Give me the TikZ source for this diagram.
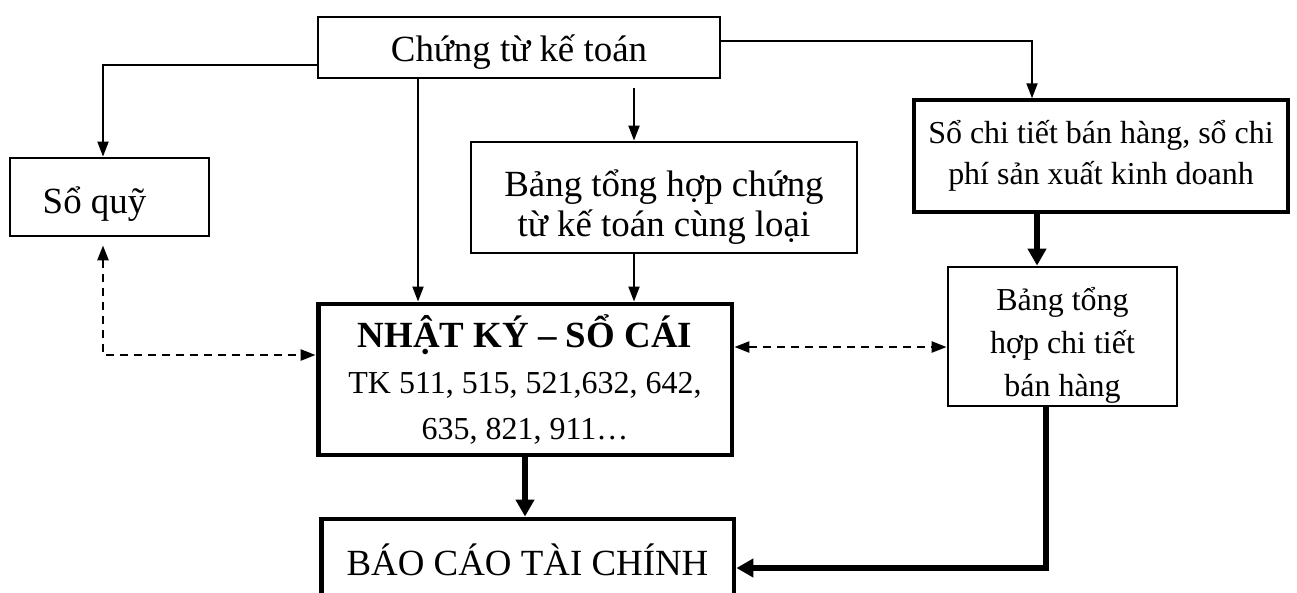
\documentclass[tikz,border=0pt]{standalone}
\usepackage{fontspec}
\setmainfont{Liberation Serif}
\usetikzlibrary{arrows.meta}

\begin{document}
\begin{tikzpicture}[x=0.02cm, y=-0.02cm,
	hop/.style={draw, line width=1.6pt, inner sep=0pt, align=center, font=\fontsize{21}{25.5}\selectfont},
	hopnho/.style={hop, font=\fontsize{18.2}{24.4}\selectfont},
	muiten/.style={-{Triangle[length=0.3cm,width=0.22cm]}, line width=1.1pt},
	muitendam/.style={-{Triangle[length=0.34cm,width=0.36cm]}, line width=3pt},
	netdut/.style={{Triangle[length=0.3cm,width=0.22cm]}-{Triangle[length=0.3cm,width=0.22cm]}, line width=1.4pt, dash pattern=on 0.16cm off 0.12cm}]
	\useasboundingbox (0,0) rectangle (1297,592);
	
	% Các ô của sơ đồ
	\node[hop, minimum width=8.04cm, minimum height=1.22cm, text height=0.56cm, text depth=0pt] (ct) at (519,47.5) {Chứng từ kế toán};
	\node[hop, minimum width=3.98cm, minimum height=1.56cm, text height=0.64cm, text depth=0pt] (sq) at (109.5,197) {Sổ quỹ\hspace*{0.6cm}};
	\node[hop, minimum width=7.72cm, minimum height=2.22cm, font=\fontsize{21}{23}\selectfont] (bth) at (664,197.5) {\rule{0pt}{26pt}Bảng tổng hợp chứng\\từ kế toán cùng loại};
	\node[hopnho, line width=2pt, minimum width=7.48cm, minimum height=2.24cm, font=\fontsize{18.2}{23.3}\selectfont] (sct) at (1101,156) {Sổ chi tiết bán hàng, sổ chi\\phí sản xuất kinh doanh};
	\node[hopnho, minimum width=4.58cm, minimum height=2.78cm] (bct) at (1062.5,336.5) {\rule{0pt}{23pt}Bảng tổng\\hợp chi tiết\\bán hàng};
	\node[hopnho, line width=2.8pt, minimum width=8.28cm, minimum height=3.02cm, font=\fontsize{18.2}{26}\selectfont] (nk) at (525,379.5) {{\fontsize{21}{25}\selectfont\bfseries NHẬT KÝ – SỔ CÁI}\\TK 511, 515, 521,632, 642,\\635, 821, 911…};
	\node[hop, line width=2.8pt, minimum width=8.26cm, minimum height=1.74cm, text height=0.5cm, text depth=0pt] (bc) at (527.5,562.5) {BÁO CÁO TÀI CHÍNH};
	
	% Mũi tên từ chứng từ kế toán
	\draw[muiten] ([yshift=-0.35cm]ct.west) -| ([xshift=-0.13cm]sq.north);
	\draw[muiten] ([xshift=-2.02cm]ct.south) -- ([xshift=-2.02cm]ct.south |- nk.north);
	\draw[muiten] ([xshift=-0.6cm,yshift=-0.18cm]bth.north |- ct.south) -- ([xshift=-0.6cm]bth.north);
	\draw[muiten] ([yshift=0.13cm]ct.east) -| ([xshift=-1.38cm]sct.north);
	\draw[muiten] ([xshift=-0.6cm]bth.south) -- ([xshift=-0.6cm]bth.south |- nk.north);
	
	% Mũi tên đậm
	\draw[muitendam] ([xshift=-0.51cm]bct.north |- sct.south) -- ([xshift=-0.51cm]bct.north);
	\draw[muitendam] (nk.south) -- (nk.south |- bc.north);
	\draw[muitendam] ([xshift=-0.33cm]bct.south) |- ([yshift=-0.11cm]bc.east);
	
	% Đối chiếu (nét đứt)
	\draw[netdut] ([xshift=-0.13cm,yshift=-0.16cm]sq.south) |- ([yshift=0.49cm]nk.west);
	\draw[netdut] ([yshift=0.65cm]nk.east) -- ([yshift=0.65cm]nk.east -| bct.west);
\end{tikzpicture}
\end{document}
